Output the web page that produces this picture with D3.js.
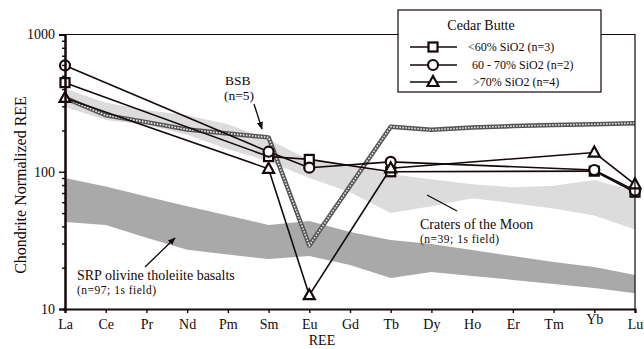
<!DOCTYPE html>
<html>
<head>
<meta charset="utf-8">
<script src="https://cdn.jsdelivr.net/npm/d3@7"></script>
<style>
  html, body { margin: 0; padding: 0; background: #fff; }
  svg { display: block; }
  svg text { font-family: "Liberation Serif", "Times New Roman", Times, serif; }
</style>
</head>
<body>
<svg id="chart" width="644" height="349"></svg>
<script>
// Rare earth elements along the x axis
const ree = ["La","Ce","Pr","Nd","Pm","Sm","Eu","Gd","Tb","Dy","Ho","Er","Tm","Yb","Lu"];

// Cedar Butte averages (null = not analysed)
const cbLow  = [446, null, null, null, null, 129, 123, null, 100, null, null, null, null, 101, 71];   // <60% SiO2
const cbMid  = [595, null, null, null, null, 140, 107, null, 118, null, null, null, null, 103, 73];   // 60-70% SiO2
const cbHigh = [345, null, null, null, null, 105, 12.6, null, 106, null, null, null, null, 138, 81];  // >70% SiO2

// BSB average (n=5)
const bsb = [345, 258, 230, 203, 190, 178, 29, null, 213, 202, 210, 215, 219, 222, 226];

// Craters of the Moon 1s field (upper / lower)
const comUpper = [405, 318, 282, 258, 222, 172, 122, 112, 96, 88, 81, 77, 79, 87, 72];
const comLower = [296, 238, 219, 186, 146, 119, 90, 71, 50, 56, 64, 59, 54, 48, 38];

// SRP olivine tholeiite basalts 1s field (upper / lower)
const srpUpper = [90, 78, 66, 56, 48, 41, 43.8, 36.4, 31.8, 29.8, 26.9, 24.3, 22, 20.2, 17.7];
const srpLower = [43, 41, 33, 27, 25, 23.1, 24.3, 20.9, 16.8, 18.6, 17.4, 16.3, 15.2, 14.2, 13];

// Axis ticks
const yMajor = [10, 100, 1000];
const yMinor = [20,30,40,50,60,70,80,90,200,300,400,500,600,700,800,900];

const serif = "Liberation Serif, Times New Roman, serif";
const svg = d3.select("#chart").attr("font-family", serif);
const x = d3.scalePoint().domain(ree).range([65, 635]);
const y = d3.scaleLog().domain([10, 1000]).range([309, 34.5]);
const ink = "#140808";

function label(px, py, size, str, anchor) {
  return svg.append("text").attr("x", px).attr("y", py)
    .attr("font-family", serif).attr("font-size", size)
    .attr("text-anchor", anchor || "start").attr("fill", ink).text(str);
}

// Shaded fields
const area = d3.area()
  .x((d, i) => x(ree[i]))
  .y0(d => y(d[1]))
  .y1(d => y(d[0]));
svg.append("path")
  .attr("d", area(srpUpper.map((v, i) => [v, srpLower[i]])))
  .attr("fill", "#a9a9a9");
svg.append("path")
  .attr("d", area(comUpper.map((v, i) => [v, comLower[i]])))
  .attr("fill", "#dcdcdc");

// BSB line: textured grey chain
const pts = arr => arr.map((v, i) => [ree[i], v]).filter(d => d[1] != null);
const line = d3.line().x(d => x(d[0])).y(d => y(d[1]));
svg.append("path").attr("d", line(pts(bsb)))
  .attr("fill", "none").attr("stroke", "#555").attr("stroke-width", 4.5)
  .attr("stroke-linejoin", "round");
svg.append("path").attr("d", line(pts(bsb)))
  .attr("fill", "none").attr("stroke", "#f2f2f2").attr("stroke-width", 1.6)
  .attr("stroke-dasharray", "1.5,1.5");

// Cedar Butte series
const series = [
  { data: cbLow,  shape: "square" },
  { data: cbMid,  shape: "circle" },
  { data: cbHigh, shape: "triangle" }
];
function marker(g, shape, cx, cy) {
  if (shape === "square") {
    g.append("rect").attr("x", cx - 4.5).attr("y", cy - 4.5).attr("width", 9).attr("height", 9)
      .attr("fill", "#fff").attr("stroke", ink).attr("stroke-width", 2.2);
  } else if (shape === "circle") {
    g.append("circle").attr("cx", cx).attr("cy", cy).attr("r", 5)
      .attr("fill", "#fff").attr("stroke", ink).attr("stroke-width", 2.2);
  } else {
    g.append("path").attr("d", `M${cx},${cy - 6}L${cx + 5.5},${cy + 4}L${cx - 5.5},${cy + 4}Z`)
      .attr("fill", "#fff").attr("stroke", ink).attr("stroke-width", 2.2).attr("stroke-linejoin", "miter");
  }
}
series.forEach(s => {
  svg.append("path").attr("d", line(pts(s.data)))
    .attr("fill", "none").attr("stroke", ink).attr("stroke-width", 1.6);
});
series.forEach(s => {
  const g = svg.append("g");
  pts(s.data).forEach(d => marker(g, s.shape, x(d[0]), y(d[1])));
});

// Plot frame (top and right)
svg.append("path").attr("d", `M${x.range()[0]},${y(1000)}H${x.range()[1]}V${y(10)}`)
  .attr("fill", "none").attr("stroke", ink).attr("stroke-width", 1.2);

// Y axis
const yAxisMinor = d3.axisLeft(y).tickValues(yMinor).tickSize(3).tickFormat("");
const yAxisMajor = d3.axisLeft(y).tickValues(yMajor).tickSize(6).tickFormat(d3.format("d"));
const ga = svg.append("g").attr("transform", `translate(${x.range()[0]},0)`);
ga.call(yAxisMinor);
ga.append("g").call(yAxisMajor);
ga.attr("font-family", serif);
ga.selectAll("g").attr("font-family", serif);
ga.selectAll(".domain").attr("stroke", ink).attr("stroke-width", 2);
ga.selectAll(".tick line").attr("stroke", ink).attr("stroke-width", 1.4);
ga.selectAll(".tick text").attr("font-family", serif).attr("font-size", 14)
  .attr("fill", ink).attr("x", -10);

// X axis
const gx = svg.append("g").attr("transform", `translate(0,${y(10)})`)
  .call(d3.axisBottom(x).tickSize(4).tickPadding(6));
gx.attr("font-family", serif);
gx.select(".domain").attr("stroke", ink).attr("stroke-width", 2.2);
gx.selectAll(".tick line").attr("stroke", ink).attr("stroke-width", 1.4);
gx.selectAll(".tick text").attr("font-family", serif).attr("font-size", 14)
  .attr("fill", ink).attr("dy", (d) => d === "Yb" ? "0.35em" : "0.71em");

// Axis titles
label(322, 345, 14, "REE", "middle");
svg.append("text").attr("transform", "translate(26,185) rotate(-90)").attr("text-anchor", "middle")
  .attr("font-family", serif).attr("font-size", 16).attr("fill", ink).text("Chondrite Normalized REE");

// Field labels with pointers
svg.append("defs").append("marker").attr("id", "ah").attr("viewBox", "0 0 10 10")
  .attr("refX", 9).attr("refY", 5).attr("markerWidth", 6).attr("markerHeight", 6)
  .attr("orient", "auto").append("path").attr("d", "M0,1L10,5L0,9Z").attr("fill", ink);

label(225, 85, 13.5, "BSB");
label(224, 100, 13.5, "(n=5)");
svg.append("line").attr("x1", 254).attr("y1", 104).attr("x2", 262).attr("y2", 129)
  .attr("stroke", ink).attr("stroke-width", 1.3).attr("marker-end", "url(#ah)");

label(420, 229, 14, "Craters of the Moon");
label(420, 243, 11.5, "(n=39; 1s field)").attr("letter-spacing", 0.5);
svg.append("line").attr("x1", 427).attr("y1", 195).attr("x2", 457).attr("y2", 211)
  .attr("stroke", ink).attr("stroke-width", 1.3);

label(77, 280, 14, "SRP olivine tholeiite basalts");
label(77, 294, 11.5, "(n=97; 1s field)").attr("letter-spacing", 0.5);
svg.append("line").attr("x1", 145).attr("y1", 267).attr("x2", 175).attr("y2", 238)
  .attr("stroke", ink).attr("stroke-width", 1.3).attr("marker-end", "url(#ah)");

// Legend
const lg = svg.append("g");
lg.append("rect").attr("x", 398).attr("y", 10).attr("width", 203).attr("height", 82)
  .attr("fill", "#fff").attr("stroke", ink).attr("stroke-width", 1.2);
lg.append("text").attr("x", 481).attr("y", 30).attr("text-anchor", "middle")
  .attr("font-family", serif).attr("font-size", 14).attr("fill", ink).text("Cedar Butte");
const legendLabels = ["<60% SiO2 (n=3)", "60 - 70% SiO2 (n=2)", ">70% SiO2 (n=4)"];
const legendTextX = [468, 472, 473];
const legendRowY = [47, 65, 82];
series.forEach((s, i) => {
  const ly = legendRowY[i];
  lg.append("line").attr("x1", 410).attr("x2", 457).attr("y1", ly).attr("y2", ly)
    .attr("stroke", ink).attr("stroke-width", 1.6);
  marker(lg, s.shape, 433, ly);
  lg.append("text").attr("x", legendTextX[i]).attr("y", ly + 4)
    .attr("font-family", serif).attr("font-size", 12).attr("fill", ink).text(legendLabels[i]);
});
</script>
</body>
</html>
